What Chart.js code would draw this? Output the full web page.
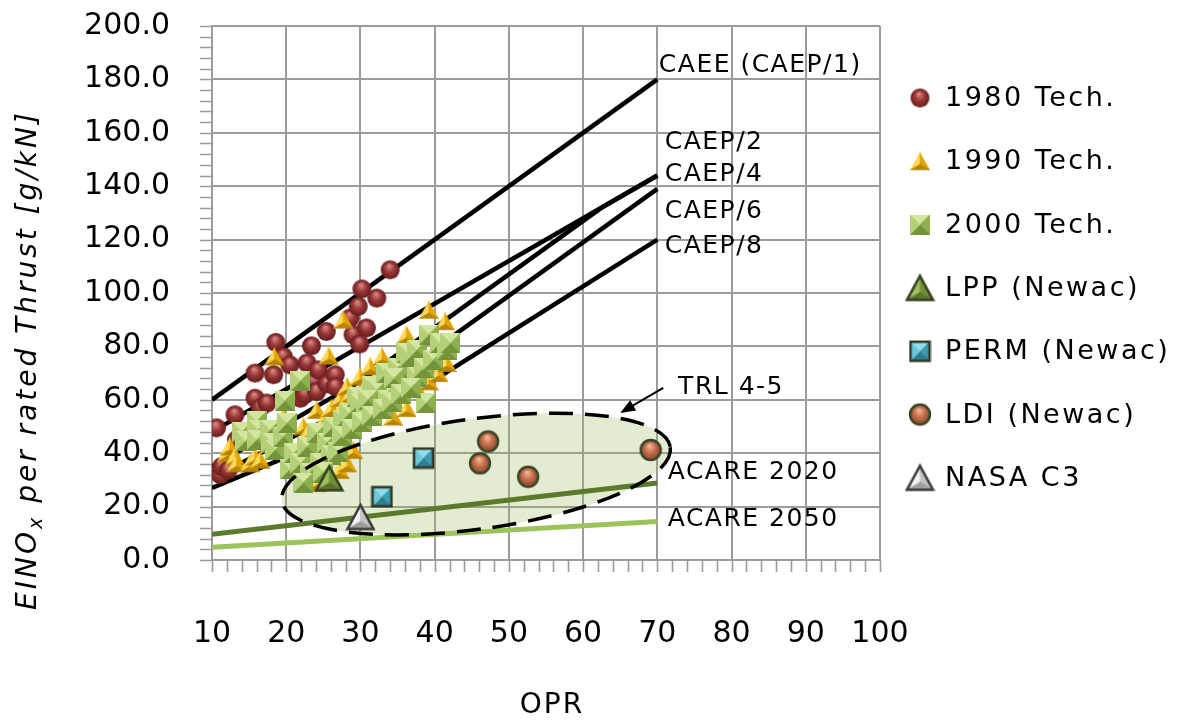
<!DOCTYPE html>
<html>
<head>
<meta charset="utf-8">
<script src="https://cdn.jsdelivr.net/npm/chart.js@4.4.0/dist/chart.umd.min.js"></script>
<style>
  html, body { margin: 0; padding: 0; background: #ffffff; }
  #wrap { width: 1194px; height: 723px; }
</style>
</head>
<body>
<div id="wrap"><canvas id="chart" width="1194" height="723"></canvas></div>
<script>
// ---- axis ticks ----
const oprTicks = [10, 20, 30, 40, 50, 60, 70, 80, 90, 100];
const noxTicks = [0, 20, 40, 60, 80, 100, 120, 140, 160, 180, 200];

// ---- regulatory limit lines (OPR, g/kN) ----
const caeeOpr  = [10, 70];            const caeeNox  = [60, 180];
const caep2Opr = [10, 70];            const caep2Nox = [48, 144];
const caep4Opr = [10, 30, 62.5, 70];  const caep4Nox = [35, 67, 132, 144];
const caep6Opr = [10, 30, 70];        const caep6Nox = [30.8, 59, 139];
const caep8Opr = [10, 30, 70];        const caep8Nox = [27, 50, 120];
const acare2020Opr = [10, 70];        const acare2020Nox = [9.6, 28.8];
const acare2050Opr = [10, 70];        const acare2050Nox = [4.8, 14.4];

// ---- combustor technology data ----
const tech1980Opr = [10.6, 11.1, 11.3, 12.2, 13.1, 13.3, 15.8, 15.8, 16.5, 17.4, 18.3, 18.6, 19.6, 20.5, 21.9, 22.5, 22.8,
                     23.4, 23.7, 24.1, 24.3, 25.4, 25.5, 26.6, 26.6, 28.6, 29.0, 29.7, 29.9, 30.2, 30.8, 32.2, 34.0];
const tech1980Nox = [49.5, 32.0, 35.0, 33.7, 54.4, 45.0, 60.6, 70.0, 57.0, 58.8, 69.4, 81.5, 76.2, 73.1, 60.6, 62.0, 73.8,
                     80.2, 66.9, 63.1, 71.2, 85.6, 66.0, 69.4, 65.0, 90.6, 84.4, 95.0, 80.9, 101.5, 86.9, 98.1, 108.7];

const tech1990Opr = [12.0, 12.4, 13.1, 13.3, 15.1, 15.8, 16.5, 18.4, 19.6, 21.9, 22.3, 23.0, 24.1, 24.1, 24.6,
                     25.0, 25.7, 26.0, 26.1, 27.2, 27.3, 27.7, 27.7, 28.2, 28.2, 28.8, 29.0, 29.9, 30.5, 31.3,
                     31.5, 32.9, 33.5, 34.4, 35.5, 36.2, 36.2, 37.5, 39.2, 39.2, 40.5, 41.4, 41.6];
const tech1990Nox = [40.0, 42.5, 38.7, 36.2, 36.2, 38.7, 37.5, 76.2, 53.7, 38.7, 50.0, 48.0, 56.2, 28.8, 30.0,
                     52.0, 76.5, 55.0, 56.9, 33.7, 60.6, 57.5, 90.0, 65.0, 36.2, 62.5, 41.2, 68.7, 64.0, 72.5,
                     59.4, 76.2, 57.0, 53.7, 62.0, 56.9, 84.4, 65.0, 66.9, 93.7, 70.0, 89.4, 73.8];

const tech2000Opr = [14.0, 14.5, 16.0, 16.2, 16.0, 17.8, 18.0, 18.5, 19.6, 20.1, 19.8, 21.9, 20.5, 21.0, 21.9,
                     22.8, 23.2, 24.1, 24.5, 25.5, 26.0, 26.3, 27.7, 28.5, 29.5, 29.9, 30.8, 31.5, 32.2, 33.5,
                     33.5, 35.0, 35.0, 36.2, 36.7, 37.6, 37.6, 38.5, 38.8, 39.2, 39.8, 40.7, 41.6, 42.1,
                     22.3, 25.0, 27.0, 27.5, 28.8, 30.2, 31.0, 31.5, 33.0, 34.2, 34.5, 35.5, 36.8];
const tech2000Nox = [48.0, 44.5, 52.0, 48.7, 45.0, 48.7, 44.0, 41.2, 46.2, 51.2, 59.6, 67.0, 34.0, 40.0, 36.2,
                     42.5, 32.5, 47.5, 36.5, 44.0, 39.5, 50.0, 52.5, 55.0, 61.2, 58.8, 56.2, 65.0, 63.7, 60.0,
                     70.0, 66.0, 72.0, 77.5, 76.2, 68.7, 78.7, 72.0, 58.8, 84.4, 75.0, 81.2, 78.7, 81.2,
                     29.0, 33.0, 40.5, 46.5, 49.0, 51.5, 60.0, 54.0, 56.5, 59.0, 68.0, 62.0, 64.5];

const lppOpr  = [25.8];              const lppNox  = [30.6];
const permOpr = [32.9, 38.5];        const permNox = [23.7, 38.2];
const ldiOpr  = [46.1, 47.2, 52.6, 69.1]; const ldiNox = [36.2, 44.4, 31.2, 41.2];
const nasaOpr = [30.0];              const nasaNox = [16.1];

// ---- annotations (data coordinates) ----
const lineLabels = [
  { text: 'CAEE (CAEP/1)', opr: 70.2, nox: 185.2 },
  { text: 'CAEP/2',        opr: 71.0, nox: 156.4 },
  { text: 'CAEP/4',        opr: 71.0, nox: 144.4 },
  { text: 'CAEP/6',        opr: 71.0, nox: 130.5 },
  { text: 'CAEP/8',        opr: 71.0, nox: 117.4 },
  { text: 'TRL 4-5',       opr: 72.8, nox: 64.5 },
  { text: 'ACARE 2020',    opr: 71.4, nox: 32.6 },
  { text: 'ACARE 2050',    opr: 71.4, nox: 15.0 }
];
// TRL 4-5 region: ends of the long axis and top of the short axis
const trlRegion = { left: [19.4, 22.2], right: [71.75, 42.2], top: [44.6, 52.7] };
const trlArrow = { from: [70.8, 64.5], to: [65.0, 55.1] };

const FONT = "'DejaVu Sans', 'Noto Sans', sans-serif";

function pts(xs, ys) { return xs.map((x, i) => ({ x: x, y: ys[i] })); }

// ---- shaded marker sprites ----
function sprite(size) {
  const cv = document.createElement('canvas');
  cv.width = size; cv.height = size;
  return [cv, cv.getContext('2d')];
}
function sphere(d, c0, c1, c2, edge) {
  const pad = edge ? 2 : 1;
  const s = Math.ceil(d + pad * 2);
  const [cv, g] = sprite(s);
  const r = d / 2, cx = s / 2, cy = s / 2;
  const grad = g.createRadialGradient(cx - r * 0.1, cy - r * 0.45, r * 0.05, cx, cy, r);
  grad.addColorStop(0, c0); grad.addColorStop(0.5, c1); grad.addColorStop(1, c2);
  g.beginPath(); g.arc(cx, cy, r, 0, Math.PI * 2);
  g.fillStyle = grad; g.fill();
  if (edge) { g.lineWidth = 2.4; g.strokeStyle = edge; g.stroke(); }
  return cv;
}
function facet(g, pts, color) {
  g.beginPath(); g.moveTo(pts[0], pts[1]);
  for (let i = 2; i < pts.length; i += 2) g.lineTo(pts[i], pts[i + 1]);
  g.closePath(); g.fillStyle = color; g.fill();
  g.strokeStyle = color; g.lineWidth = 0.6; g.stroke();
}
function pyramidSquare(size, top, left, right, bottom, edge) {
  const pad = edge ? 2 : 0;
  const s = size + pad * 2;
  const [cv, g] = sprite(s);
  const a = pad, b = pad + size, c = s / 2;
  facet(g, [a, a, b, a, c, c], top);
  facet(g, [b, a, b, b, c, c], right);
  facet(g, [b, b, a, b, c, c], bottom);
  facet(g, [a, b, a, a, c, c], left);
  if (edge) { g.lineWidth = 2.6; g.strokeStyle = edge; g.strokeRect(a, a, size, size); }
  return cv;
}
function pyramidTriangle(w, h, left, right, base, edge) {
  const pad = edge ? 2.5 : 0.5;
  const s = Math.ceil(Math.max(w, h) + pad * 2);
  const [cv, g] = sprite(s);
  const ox = (s - w) / 2, oy = (s - h) / 2;
  const ax = ox + w / 2, ay = oy, lx = ox, ly = oy + h, rx = ox + w, ry = oy + h;
  const cx = ox + w / 2, cy = oy + h * 0.68;
  facet(g, [ax, ay, lx, ly, cx, cy], left);
  facet(g, [ax, ay, rx, ry, cx, cy], right);
  facet(g, [lx, ly, rx, ry, cx, cy], base);
  if (edge) {
    g.beginPath(); g.moveTo(ax, ay); g.lineTo(rx, ry); g.lineTo(lx, ly); g.closePath();
    g.lineJoin = 'miter'; g.lineWidth = 2.6; g.strokeStyle = edge; g.stroke();
  }
  return cv;
}

const mark1980 = sphere(19, '#d98a8a', '#993737', '#661c1c', null);
const mark1990 = pyramidTriangle(19, 17, '#ffd95c', '#e3a600', '#b88400', null);
const mark2000 = pyramidSquare(20, '#d2e69e', '#b5d078', '#8fb04e', '#759439', null);
const markLpp  = pyramidTriangle(26, 24, '#a2c062', '#728f37', '#5a7429', '#34401f');
const markPerm = pyramidSquare(19, '#92dde9', '#6cc7d8', '#3b9cb1', '#2e7e90', '#2f3a2b');
const markLdi  = sphere(20, '#f4b898', '#c6714f', '#8c4529', '#3a4629');
const markNasa = pyramidTriangle(26, 24, '#f4f4f4', '#c4c4c4', '#9d9d9d', '#3c3c3c');

function limitLine(label, xs, ys, color, width) {
  return {
    label: label, data: pts(xs, ys), showLine: true, borderColor: color, borderWidth: width,
    pointRadius: 0, fill: false, order: 10
  };
}
function markerSet(label, xs, ys, sprite, order) {
  return {
    label: label, data: pts(xs, ys), pointStyle: sprite, pointRadius: 10,
    showLine: false, order: order, legendSprite: sprite
  };
}

// ---- plugins ----
function px(chart, p) { return [chart.scales.x.getPixelForValue(p[0]), chart.scales.y.getPixelForValue(p[1])]; }

function trlGeometry(chart) {
  const L = px(chart, trlRegion.left), R = px(chart, trlRegion.right), T = px(chart, trlRegion.top);
  const cx = (L[0] + R[0]) / 2, cy = (L[1] + R[1]) / 2;
  const a = Math.hypot(R[0] - cx, R[1] - cy);
  const b = Math.hypot(T[0] - cx, T[1] - cy);
  const rot = Math.atan2(R[1] - cy, R[0] - cx);
  return { cx, cy, a, b, rot };
}

const trlFill = {
  id: 'trlFill',
  beforeDatasetsDraw(chart) {
    const { ctx } = chart; const e = trlGeometry(chart);
    ctx.save();
    ctx.beginPath(); ctx.ellipse(e.cx, e.cy, e.a, e.b, e.rot, 0, Math.PI * 2);
    ctx.fillStyle = 'rgba(155, 187, 89, 0.28)'; ctx.fill();
    ctx.restore();
  },
  afterDatasetsDraw(chart) {
    const { ctx } = chart; const e = trlGeometry(chart);
    ctx.save();
    ctx.beginPath(); ctx.ellipse(e.cx, e.cy, e.a, e.b, e.rot, 0, Math.PI * 2);
    ctx.setLineDash([24, 12]); ctx.lineWidth = 3.5; ctx.strokeStyle = '#000000'; ctx.stroke();
    ctx.restore();
  }
};

const minorTicks = {
  id: 'minorTicks',
  beforeDatasetsDraw(chart) {
    const { ctx, chartArea: ca } = chart; const xs = chart.scales.x, ys = chart.scales.y;
    ctx.save();
    ctx.strokeStyle = '#9c9c9c'; ctx.lineWidth = 1.6;
    ctx.beginPath();
    for (let v = 10; v <= 100.001; v += 2) {
      const x = Math.round(xs.getPixelForValue(v)) + 0.5;
      ctx.moveTo(x, ca.bottom); ctx.lineTo(x, ca.bottom + 12);
    }
    for (let v = 0; v <= 200.001; v += 4) {
      const y = Math.round(ys.getPixelForValue(v)) + 0.5;
      ctx.moveTo(ca.left - 12, y); ctx.lineTo(ca.left, y);
    }
    ctx.stroke();
    ctx.restore();
  }
};

function spaced(ctx, text, x, y, spacing) {
  ctx.letterSpacing = spacing + 'px';
  ctx.fillText(text, x, y);
  ctx.letterSpacing = '0px';
}

const annotations = {
  id: 'annotations',
  afterDraw(chart) {
    const { ctx, chartArea: ca } = chart;
    ctx.save();
    ctx.fillStyle = '#000000';
    ctx.textBaseline = 'middle';
    ctx.textAlign = 'left';
    ctx.font = '25px ' + FONT;
    lineLabels.forEach(l => {
      const p = px(chart, [l.opr, l.nox]);
      spaced(ctx, l.text, p[0], p[1], 1.5);
    });

    // arrow pointing at the TRL region
    const A = px(chart, trlArrow.from), B = px(chart, trlArrow.to);
    const ang = Math.atan2(B[1] - A[1], B[0] - A[0]);
    ctx.strokeStyle = '#000000'; ctx.lineWidth = 2;
    ctx.beginPath(); ctx.moveTo(A[0], A[1]);
    ctx.lineTo(B[0] - 10 * Math.cos(ang), B[1] - 10 * Math.sin(ang)); ctx.stroke();
    ctx.beginPath();
    ctx.moveTo(B[0], B[1]);
    ctx.lineTo(B[0] - 15 * Math.cos(ang) + 6 * Math.sin(ang), B[1] - 15 * Math.sin(ang) - 6 * Math.cos(ang));
    ctx.lineTo(B[0] - 15 * Math.cos(ang) - 6 * Math.sin(ang), B[1] - 15 * Math.sin(ang) + 6 * Math.cos(ang));
    ctx.closePath(); ctx.fill();

    // axis titles
    ctx.textAlign = 'center';
    ctx.font = '28px ' + FONT;
    spaced(ctx, 'OPR', (ca.left + ca.right) / 2 + 6, 706, 2);

    ctx.save();
    ctx.translate(29, 360);
    ctx.rotate(-Math.PI / 2);
    ctx.textAlign = 'left';
    const big = 'italic 28px ' + FONT, small = 'italic 19px ' + FONT;
    ctx.letterSpacing = '3px';
    ctx.font = big;  const w1 = ctx.measureText('EINO').width;
    const rest = ' per rated Thrust [g/kN]'; const w3 = ctx.measureText(rest).width;
    ctx.font = small; const w2 = ctx.measureText('x').width;
    let x0 = -(w1 + w2 + w3) / 2;
    ctx.font = big;   ctx.fillText('EINO', x0, 0); x0 += w1;
    ctx.font = small; ctx.fillText('x', x0, 8);    x0 += w2;
    ctx.font = big;   ctx.fillText(rest, x0, 0);
    ctx.letterSpacing = '0px';
    ctx.restore();

    // legend for the combustor data sets
    ctx.textAlign = 'left';
    ctx.font = '27px ' + FONT;
    let row = 0;
    chart.data.datasets.forEach(ds => {
      if (!ds.legendSprite) return;
      const y = 98 + row * 63.3;
      const s = ds.legendSprite;
      ctx.drawImage(s, 920 - s.width / 2, y - s.height / 2);
      spaced(ctx, ds.label, 945, y + 1, 2.5);
      row++;
    });
    ctx.restore();
  }
};

const gridColor = '#9c9c9c';

new Chart(document.getElementById('chart'), {
  type: 'scatter',
  data: {
    datasets: [
      limitLine('CAEE (CAEP/1)', caeeOpr, caeeNox, '#000000', 4.5),
      limitLine('CAEP/2', caep2Opr, caep2Nox, '#000000', 4.5),
      limitLine('CAEP/4', caep4Opr, caep4Nox, '#000000', 4.5),
      limitLine('CAEP/6', caep6Opr, caep6Nox, '#000000', 4.5),
      limitLine('CAEP/8', caep8Opr, caep8Nox, '#000000', 4.5),
      limitLine('ACARE 2020', acare2020Opr, acare2020Nox, '#5b7a2c', 5),
      limitLine('ACARE 2050', acare2050Opr, acare2050Nox, '#9cc45c', 5),
      markerSet('1980 Tech.', tech1980Opr, tech1980Nox, mark1980, 7),
      markerSet('1990 Tech.', tech1990Opr, tech1990Nox, mark1990, 6),
      markerSet('2000 Tech.', tech2000Opr, tech2000Nox, mark2000, 5),
      markerSet('LPP (Newac)', lppOpr, lppNox, markLpp, 3),
      markerSet('PERM (Newac)', permOpr, permNox, markPerm, 3),
      markerSet('LDI (Newac)', ldiOpr, ldiNox, markLdi, 3),
      markerSet('NASA C3', nasaOpr, nasaNox, markNasa, 2)
    ]
  },
  options: {
    responsive: false,
    animation: false,
    events: [],
    devicePixelRatio: 1,
    layout: { padding: { left: 0, top: 26, right: 314, bottom: 0 } },
    plugins: { legend: { display: false }, tooltip: { enabled: false } },
    scales: {
      x: {
        type: 'linear', min: 10, max: 100,
        afterBuildTicks: s => { s.ticks = oprTicks.map(v => ({ value: v })); },
        afterFit: s => { s.height = 163; s.paddingLeft = 0; s.paddingRight = 0; },
        ticks: { color: '#000000', font: { family: FONT, size: 30 }, padding: 56, maxRotation: 0, autoSkip: false },
        grid: { color: gridColor, lineWidth: 2, drawTicks: false },
        border: { display: true, color: gridColor, width: 2 },
        title: { display: false }
      },
      y: {
        type: 'linear', min: 0, max: 200,
        afterBuildTicks: s => { s.ticks = noxTicks.map(v => ({ value: v })); },
        afterFit: s => { s.width = 212; s.paddingTop = 0; s.paddingBottom = 0; },
        ticks: { color: '#000000', font: { family: FONT, size: 30 }, padding: 42, callback: v => v.toFixed(1) },
        grid: { color: gridColor, lineWidth: 2, drawTicks: false },
        border: { display: true, color: gridColor, width: 2 },
        title: { display: false }
      }
    }
  },
  plugins: [trlFill, minorTicks, annotations]
});
</script>
</body>
</html>
